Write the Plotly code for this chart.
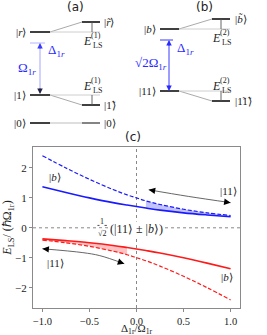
import plotly.graph_objects as go

# ---------------- data ----------------
detuning = [-1.0, -0.75, -0.5, -0.25, -0.1, 0.0, 0.1, 0.25, 0.5, 0.75, 1.0]
blue_dashed = [2.41, 2.0, 1.62, 1.28, 1.1, 1.0, 0.9, 0.78, 0.62, 0.5, 0.41]
blue_solid = [1.37, 1.18, 1.0, 0.84, 0.76, 0.71, 0.66, 0.59, 0.5, 0.43, 0.37]
red_solid = [-0.37, -0.43, -0.5, -0.59, -0.66, -0.71, -0.76, -0.84, -1.0, -1.18, -1.37]
red_dashed = [-0.41, -0.5, -0.62, -0.78, -0.9, -1.0, -1.1, -1.28, -1.62, -2.0, -2.41]

# guide arrows (schematic)
upper_arrow_x = [0.13, 0.55, 1.0]
upper_arrow_y = [1.27, 1.05, 0.84]
lower_arrow_x = [-1.0, -0.57, -0.39, -0.13]
lower_arrow_y = [-0.7, -0.83, -0.93, -1.2]

x_ticks = [-1.0, -0.5, 0.0, 0.5, 1.0]
x_tick_text = ["\u22121.0", "\u22120.5", "0.0", "0.5", "1.0"]
y_ticks = [-2, -1, 0, 1, 2]
y_tick_text = ["\u22122", "\u22121", "0", "1", "2"]

SERIF = "Liberation Serif"
SANS = "DejaVu Sans"
W, H = 267, 335

fig = go.Figure()

# shaded differences
bi = slice(6, 11)
ri = slice(0, 5)
fig.add_trace(go.Scatter(
    x=detuning[bi] + detuning[bi][::-1],
    y=blue_dashed[bi] + blue_solid[bi][::-1],
    fill="toself", fillcolor="rgba(120,120,255,0.45)", line=dict(width=0),
    mode="lines", showlegend=False, hoverinfo="skip"))
fig.add_trace(go.Scatter(
    x=detuning[ri] + detuning[ri][::-1],
    y=red_solid[ri] + red_dashed[ri][::-1],
    fill="toself", fillcolor="rgba(255,120,120,0.45)", line=dict(width=0),
    mode="lines", showlegend=False, hoverinfo="skip"))

fig.add_trace(go.Scatter(x=detuning, y=blue_dashed, mode="lines",
                         line=dict(color="#1a1aff", width=1.2, dash="4px,2px", shape="spline"),
                         showlegend=False))
fig.add_trace(go.Scatter(x=detuning, y=blue_solid, mode="lines",
                         line=dict(color="#1a1aff", width=1.6, shape="spline"),
                         showlegend=False))
fig.add_trace(go.Scatter(x=detuning, y=red_solid, mode="lines",
                         line=dict(color="#ff1a1a", width=1.6, shape="spline"),
                         showlegend=False))
fig.add_trace(go.Scatter(x=detuning, y=red_dashed, mode="lines",
                         line=dict(color="#ff1a1a", width=1.2, dash="4px,2px", shape="spline"),
                         showlegend=False))

fig.add_trace(go.Scatter(x=upper_arrow_x, y=upper_arrow_y, mode="lines",
                         line=dict(color="#555555", width=0.9, shape="spline"), showlegend=False))
fig.add_trace(go.Scatter(x=lower_arrow_x, y=lower_arrow_y, mode="lines",
                         line=dict(color="#555555", width=0.9, shape="spline"), showlegend=False))

annotations = []
shapes = []


def arrowhead(xs, ys, end):
    if end == 0:
        x, y, ax, ay = xs[0], ys[0], xs[0] + (xs[1] - xs[0]) * 0.15, ys[0] + (ys[1] - ys[0]) * 0.15
    else:
        x, y, ax, ay = xs[-1], ys[-1], xs[-1] + (xs[-2] - xs[-1]) * 0.15, ys[-1] + (ys[-2] - ys[-1]) * 0.15
    annotations.append(dict(x=x, y=y, ax=ax, ay=ay, xref="x", yref="y", axref="x", ayref="y",
                            text="", showarrow=True, arrowhead=2, arrowsize=1.3, arrowwidth=1,
                            arrowcolor="black", standoff=0, startstandoff=0))


arrowhead(upper_arrow_x, upper_arrow_y, 0)
arrowhead(upper_arrow_x, upper_arrow_y, 1)
arrowhead(lower_arrow_x, lower_arrow_y, 0)
arrowhead(lower_arrow_x, lower_arrow_y, 1)

# dotted zero lines
shapes.append(dict(type="line", xref="x", yref="y", x0=-1.1, x1=1.1, y0=0, y1=0,
                   line=dict(color="#888888", width=1, dash="dot"), layer="below"))
shapes.append(dict(type="line", xref="x", yref="y", x0=0, x1=0, y0=-2.68, y1=2.7,
                   line=dict(color="#888888", width=1, dash="dot"), layer="below"))

# labels inside the plot


def ptext(x, y, t, size=11, xanchor="center", bg=None):
    d = dict(x=x, y=y, xref="x", yref="y", text=t, showarrow=False, xanchor=xanchor,
             yanchor="middle", font=dict(family=SERIF, size=size, color="#222222"))
    if bg:
        d["bgcolor"] = bg
        d["borderpad"] = 0
    annotations.append(d)


ptext(-0.87, 1.7, "|<i>b</i>\u27e9")
ptext(0.98, 1.22, "|11\u27e9")
ptext(-0.86, -1.17, "|11\u27e9")
ptext(0.96, -1.63, "|<i>b</i>\u27e9")
ptext(0.0, -0.03, "(|11\u27e9 \u00b1 |<i>b</i>\u27e9)", size=12, bg="white")
ptext(-0.365, 0.22, "1", size=8, bg="white")
ptext(-0.365, -0.2, "\u221a2", size=8, bg="white")
shapes.append(dict(type="line", xref="x", yref="y", x0=-0.415, x1=-0.315, y0=0.08, y1=0.08,
                   line=dict(color="#222222", width=0.8)))

# x axis title
annotations.append(dict(x=137 / W, y=1 - 329 / H, xref="paper", yref="paper", showarrow=False,
                        xanchor="center", yanchor="middle",
                        text="\u0394<sub>1r</sub>/\u03a9<sub>1r</sub>",
                        font=dict(family=SERIF, size=11, color="#222222")))

# ---------------- level diagrams (pixel coordinates on hidden axes) ----------------


def seg(x0, y0, x1, y1, color="black", width=1.5):
    shapes.append(dict(type="line", xref="x2", yref="y2", x0=x0, y0=y0, x1=x1, y1=y1,
                       line=dict(color=color, width=width)))


def dtext(x, y, t, size=11, xanchor="center", color="#222222", family=SERIF):
    annotations.append(dict(x=x, y=y, xref="x2", yref="y2", text=t, showarrow=False,
                            xanchor=xanchor, yanchor="middle",
                            font=dict(family=family, size=size, color=color)))


def elabel(xc, y, n):
    dtext(xc - 5, y, "<i>E</i>", size=12)
    dtext(xc + 4, y - 6, "(%d)" % n, size=8)
    dtext(xc + 5, y + 4, "LS", size=8)


GRAY = "#a0a0a0"
# panel (a)
dtext(75, 7, "(a)", size=12, family=SANS)
seg(50, 32, 82, 22, GRAY, 0.9)
seg(50, 32, 100, 32, "#c8c8c8", 0.9)
seg(30, 32, 50, 32)
seg(82, 22, 100, 22)
seg(92, 22, 92, 32, "#555555", 0.9)
seg(50, 95, 82, 105, GRAY, 0.9)
seg(50, 95, 100, 95, "#c8c8c8", 0.9)
seg(30, 95, 50, 95)
seg(82, 105, 100, 105)
seg(92, 95, 92, 105, "#555555", 0.9)
seg(30, 123, 50, 123)
seg(50, 123, 82, 123, "#c8c8c8", 1.2)
seg(82, 123, 100, 123, "#777777", 1.8)
dtext(28, 32, "|<i>r</i>\u27e9", xanchor="right")
dtext(102, 22, "|<i>r\u0303</i>\u27e9", xanchor="left")
dtext(28, 95, "|1\u27e9", xanchor="right")
dtext(102, 105, "|1\u0303\u27e9", xanchor="left")
dtext(28, 123, "|0\u27e9", xanchor="right")
dtext(102, 123, "|0\u27e9", xanchor="left")
elabel(92, 41, 1)
elabel(92, 86, 1)
# blue arrow (a)
seg(30, 43, 45, 43, "#b4b4ff", 1)
seg(40, 46, 40, 92, "#b4b4ff", 1.2)
annotations.append(dict(x=40, y=43, ax=40, ay=50, xref="x2", yref="y2", axref="x2", ayref="y2",
                        text="", showarrow=True, arrowhead=2, arrowsize=1.1, arrowwidth=1,
                        arrowcolor="#3a3aff", standoff=0))
annotations.append(dict(x=40, y=94, ax=40, ay=87, xref="x2", yref="y2", axref="x2", ayref="y2",
                        text="", showarrow=True, arrowhead=2, arrowsize=1.1, arrowwidth=1,
                        arrowcolor="#222244", standoff=0))
dtext(46, 50, "\u0394<sub>1<i>r</i></sub>", size=13, xanchor="left", color="#2a2aff")
dtext(27, 68, "\u03a9<sub>1<i>r</i></sub>", size=13, color="#2a2aff")

# panel (b)
dtext(204, 7, "(b)", size=12, family=SANS)
seg(179, 29, 212, 19, GRAY, 0.9)
seg(179, 29, 230, 29, "#c8c8c8", 0.9)
seg(160, 29, 179, 29)
seg(212, 19, 230, 19)
seg(221, 19, 221, 29, "#555555", 0.9)
seg(179, 91, 212, 101, GRAY, 0.9)
seg(179, 91, 230, 91, "#c8c8c8", 0.9)
seg(160, 91, 179, 91)
seg(212, 101, 230, 101)
seg(221, 91, 221, 101, "#555555", 0.9)
dtext(158, 29, "|<i>b</i>\u27e9", xanchor="right")
dtext(233, 19, "|<i>b\u0303</i>\u27e9", xanchor="left")
dtext(158, 91, "|11\u27e9", xanchor="right")
dtext(233, 101, "|1\u03031\u0303\u27e9", xanchor="left")
elabel(221, 38, 2)
elabel(221, 86, 2)
# blue arrow (b)
seg(160, 40, 173, 40, "#3a3aff", 1)
seg(169, 43, 169, 88, "#3a3aff", 1)
annotations.append(dict(x=169, y=40, ax=169, ay=47, xref="x2", yref="y2", axref="x2", ayref="y2",
                        text="", showarrow=True, arrowhead=2, arrowsize=1.1, arrowwidth=1,
                        arrowcolor="#2a2aff", standoff=0))
annotations.append(dict(x=169, y=91, ax=169, ay=84, xref="x2", yref="y2", axref="x2", ayref="y2",
                        text="", showarrow=True, arrowhead=2, arrowsize=1.1, arrowwidth=1,
                        arrowcolor="#2a2aff", standoff=0))
dtext(175, 48, "\u0394<sub>1<i>r</i></sub>", size=13, xanchor="left", color="#2a2aff")
dtext(151, 63, "\u221a2\u03a9<sub>1<i>r</i></sub>", size=13, color="#2a2aff")

dtext(133, 137, "(c)", size=12, family=SANS)

axis_common = dict(showline=True, mirror=True, linecolor="#8a8a8a", linewidth=1,
                   ticks="outside", ticklen=3, tickcolor="#8a8a8a", showgrid=False,
                   zeroline=False, automargin=False)

fig.update_layout(
    width=W, height=H,
    margin=dict(l=0, r=0, t=0, b=0, pad=0),
    paper_bgcolor="white", plot_bgcolor="white",
    xaxis=dict(domain=[33 / W, 240 / W], range=[-1.1, 1.1], tickvals=x_ticks,
               ticktext=x_tick_text, anchor="y",
               tickfont=dict(family=SERIF, size=10.5, color="#222222"), **axis_common),
    yaxis=dict(domain=[1 - 308 / H, 1 - 147 / H], range=[-2.68, 2.7], tickvals=y_ticks,
               ticktext=y_tick_text, anchor="x",
               tickfont=dict(family=SERIF, size=11, color="#222222"),
               title=dict(text="<i>E</i><sub>LS</sub>/ (\u210f\u03a9<sub>1r</sub>)",
                          font=dict(family=SERIF, size=12, color="#222222"), standoff=2),
               **axis_common),
    xaxis2=dict(domain=[0, 1], range=[0, W], visible=False, anchor="y2", fixedrange=True),
    yaxis2=dict(domain=[1 - 140 / H, 1], range=[140, 0], visible=False, anchor="x2",
                fixedrange=True),
    shapes=shapes,
    annotations=annotations,
    showlegend=False,
)

fig.write_html("out.html", config={"displayModeBar": False},
               post_script="document.body.style.margin='0';document.body.style.padding='0';")
